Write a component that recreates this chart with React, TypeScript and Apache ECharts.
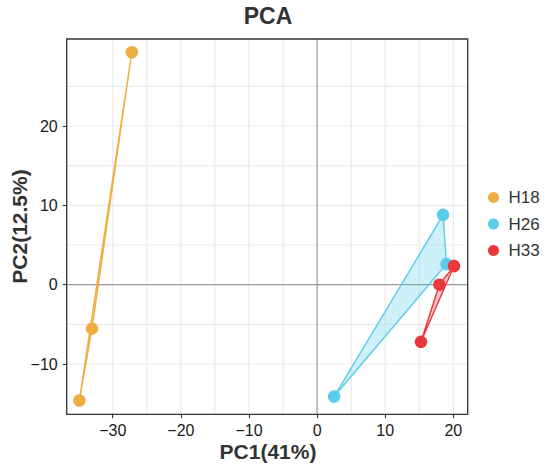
import React, { useEffect, useRef } from 'react';
import * as echarts from 'echarts';

const groupNames = ['H18', 'H26', 'H33'];
const groupColors = ['#EFAE41', '#5ACDEB', '#E8383E'];
const groupFills = ['rgba(239,174,65,0.3)', 'rgba(90,205,235,0.3)', 'rgba(232,56,62,0.3)'];

const h18PC1 = [-27.2, -33.05, -34.9];
const h18PC2 = [29.3, -5.55, -14.6];
const h26PC1 = [18.5, 19.0, 2.5];
const h26PC2 = [8.8, 2.6, -14.1];
const h33PC1 = [20.1, 17.95, 15.25];
const h33PC2 = [2.35, 0.0, -7.2];

const groupPC1 = [h18PC1, h26PC1, h33PC1];
const groupPC2 = [h18PC2, h26PC2, h33PC2];

const xTicks = [-30, -20, -10, 0, 10, 20];
const yTicks = [-10, 0, 10, 20];
const xGrid = [-30, -25, -20, -15, -10, -5, 5, 10, 15, 20];
const yGrid = [-10, -5, 5, 10, 15, 20, 25];
const xRange = [-36.76, 22.11];
const yRange = [-16.34, 30.97];

const FONT = 'Arial, "Liberation Sans", Helvetica, sans-serif';
const fmt = (v: number) => (v < 0 ? '\u2212' + Math.abs(v) : String(v));

export default function App() {
  const ref = useRef<HTMLDivElement>(null);
  useEffect(() => {
    if (!ref.current) return;
    const chart = echarts.init(ref.current, null, { renderer: 'svg' });

    const gridLineSeries = (vals: number[], vertical: boolean, color: string, width: number, z: number) => ({
      type: 'custom',
      silent: true,
      z,
      data: vals.map((v) => (vertical ? [v, 0] : [0, v])),
      encode: { x: 0, y: 1 },
      renderItem: (params: any, api: any) => {
        const cs = params.coordSys;
        if (vertical) {
          const px = api.coord([api.value(0), 0])[0];
          return { type: 'line', shape: { x1: px, y1: cs.y, x2: px, y2: cs.y + cs.height }, style: { stroke: color, lineWidth: width } };
        }
        const py = api.coord([0, api.value(1)])[1];
        return { type: 'line', shape: { x1: cs.x, y1: py, x2: cs.x + cs.width, y2: py }, style: { stroke: color, lineWidth: width } };
      },
    });

    const hullSeries = groupNames.map((name, g) => ({
      type: 'custom',
      name: name + ' hull',
      silent: true,
      z: 3,
      data: groupPC1[g].map((x, i) => [x, groupPC2[g][i]]),
      encode: { x: 0, y: 1 },
      renderItem: (params: any, api: any) => {
        if (params.dataIndex !== 0) return null;
        const pts = groupPC1[g].map((x, i) => api.coord([x, groupPC2[g][i]]));
        return {
          type: 'polygon',
          shape: { points: pts },
          style: { fill: groupFills[g], stroke: groupColors[g], lineWidth: 1.4 },
        };
      },
    }));

    const scatterSeries = groupNames.map((name, g) => ({
      type: 'scatter',
      name,
      z: 5,
      symbol: 'circle',
      symbolSize: 12.5,
      itemStyle: { color: groupColors[g], opacity: 1 },
      data: groupPC1[g].map((x, i) => [x, groupPC2[g][i]]),
    }));

    const borderSeries = {
      type: 'custom',
      silent: true,
      z: 20,
      data: [[0, 0]],
      encode: { x: 0, y: 1 },
      renderItem: (params: any) => {
        const cs = params.coordSys;
        return { type: 'rect', shape: { x: cs.x, y: cs.y, width: cs.width, height: cs.height }, style: { fill: 'none', stroke: '#333', lineWidth: 1.3 } };
      },
    };

    chart.setOption({
      animation: false,
      backgroundColor: '#fff',
      grid: { left: 66.7, right: 82.3, top: 39, bottom: 56.7, containLabel: false },
      xAxis: {
        type: 'value',
        min: xRange[0],
        max: xRange[1],
        splitLine: { show: false },
        axisLine: { show: false, onZero: false },
        axisTick: { show: true, customValues: xTicks, length: 4, lineStyle: { color: '#333', width: 1.1 } },
        axisLabel: {
          customValues: xTicks,
          formatter: (v: number) => (xTicks.includes(Math.round(v * 1000) / 1000) ? fmt(v) : ''),
          fontSize: 16,
          color: '#1a1a1a',
          fontFamily: FONT,
          margin: 8,
        },
      },
      yAxis: {
        type: 'value',
        min: yRange[0],
        max: yRange[1],
        splitLine: { show: false },
        axisLine: { show: false, onZero: false },
        axisTick: { show: true, customValues: yTicks, length: 4, lineStyle: { color: '#333', width: 1.1 } },
        axisLabel: {
          customValues: yTicks,
          formatter: (v: number) => (yTicks.includes(Math.round(v * 1000) / 1000) ? fmt(v) : ''),
          fontSize: 16,
          color: '#1a1a1a',
          fontFamily: FONT,
          margin: 9,
        },
      },
      legend: {
        data: groupNames,
        orient: 'vertical',
        left: 483,
        top: 184,
        padding: 5,
        icon: 'circle',
        itemWidth: 20,
        itemHeight: 11,
        itemGap: 9.5,
        textStyle: { fontSize: 17, color: '#333', fontFamily: FONT },
        selectedMode: false,
      },
      graphic: [
        { type: 'text', x: 268, y: 15.5, style: { text: 'PCA', fontSize: 23, fontWeight: 'bold', fontFamily: FONT, fill: '#333', align: 'center', verticalAlign: 'middle' } },
        { type: 'text', x: 268, y: 451, style: { text: 'PC1(41%)', fontSize: 21, fontWeight: 'bold', fontFamily: FONT, fill: '#333', align: 'center', verticalAlign: 'middle' } },
        { type: 'text', x: 19.5, y: 226.5, rotation: Math.PI / 2, style: { text: 'PC2(12.5%)', fontSize: 21, fontWeight: 'bold', fontFamily: FONT, fill: '#333', align: 'center', verticalAlign: 'middle' } },
      ],
      series: [
        gridLineSeries(xGrid, true, '#EBEBEB', 1.2, 1),
        gridLineSeries(yGrid, false, '#EBEBEB', 1.2, 1),
        gridLineSeries([0], true, '#999999', 1.2, 2),
        gridLineSeries([0], false, '#999999', 1.2, 2),
        ...hullSeries,
        ...scatterSeries,
        borderSeries,
      ],
    });
    return () => chart.dispose();
  }, []);
  return <div ref={ref} style={{ position: 'fixed', left: 0, top: 0, width: 550, height: 471, background: '#fff' }} />;
}
